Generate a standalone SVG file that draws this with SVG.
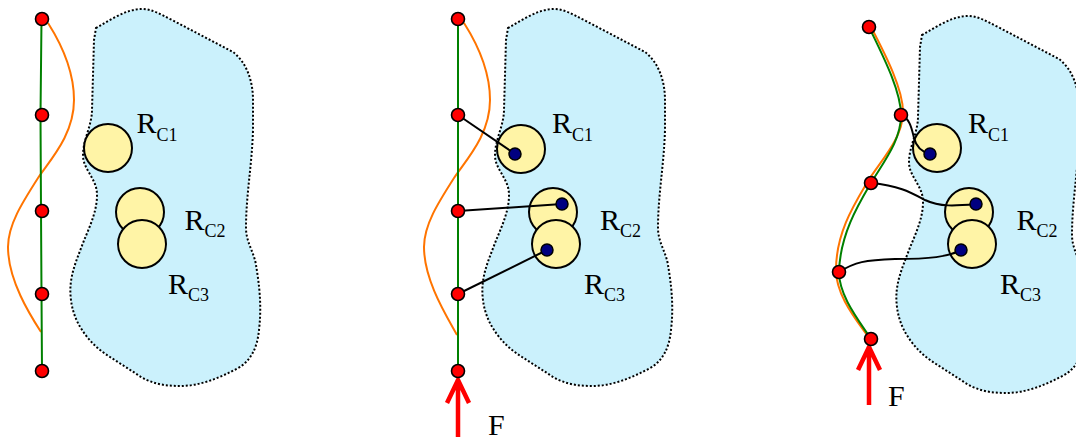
<svg xmlns="http://www.w3.org/2000/svg" xmlns:xlink="http://www.w3.org/1999/xlink" width="1076" height="440" viewBox="0 0 1076 440">
<style>
.blob{fill:#cbf1fc;stroke:#000;stroke-width:2;stroke-dasharray:2 2}
.rc{fill:#fff4a6;stroke:#000;stroke-width:2}
.node{fill:#ff0000;stroke:#000;stroke-width:1.6}
.dot{fill:#000080;stroke:#000;stroke-width:1.5}
.green{fill:none;stroke:#008000;stroke-width:2}
.orange{fill:none;stroke:#ff7400;stroke-width:2}
.link{fill:none;stroke:#000;stroke-width:2}
.arrow{fill:none;stroke:#ff0000;stroke-width:4.5;stroke-linejoin:miter}
.lbl{font-family:"Liberation Serif","Times New Roman",serif;font-size:30px;fill:#000}
.sub{font-size:18px}
</style>
<defs>
<path id="blobShape" d="M96,28 C110,20 126,9 142,9 C152,9 160,14 172,20 L233,52 C246,62 253,80 253,100 L253,130 C252,165 246,195 246,228 C246,242 254,252 256,265 C259,283 262,305 259,330 C257,350 250,360 240,367 C220,378 200,386 180,386 C165,386 150,384 135,373 L110,357 C92,346 74,326 71,300 C68,278 76,262 83,243 C89,228 97,212 97,195 C97,178 83,170 83,155 C83,140 92,125 92,110 L94,40 Z"/>
</defs>

<!-- Panel 1 -->
<g id="blob1"><use xlink:href="#blobShape" href="#blobShape" class="blob"/></g>
<g id="rc1-p1"><circle class="rc" cx="108" cy="148" r="24"/><text class="lbl" x="136.5" y="133">R<tspan class="sub" dy="7.5">C1</tspan></text></g>
<g id="rc2-p1"><circle class="rc" cx="140" cy="212" r="24"/><text class="lbl" x="184.5" y="230">R<tspan class="sub" dy="7">C2</tspan></text></g>
<g id="rc3-p1"><circle class="rc" cx="142" cy="244" r="24"/><text class="lbl" x="168" y="294">R<tspan class="sub" dy="6.5">C3</tspan></text></g>
<g id="connectors-p1">
<path class="orange" d="M48,23 C62,45 74,70 74,100 C74,135 50,160 38,178 C22,203 8,225 8,247 C8,280 30,315 41,332"/>
<path class="green" d="M41.5,19 L40.5,115 L41,211 L41.5,294 L42,371"/>
</g>
<g id="n1-p1"><circle class="node" cx="42" cy="19" r="6.5"/></g>
<g id="n2-p1"><circle class="node" cx="42" cy="115" r="6.5"/></g>
<g id="n3-p1"><circle class="node" cx="42" cy="211" r="6.5"/></g>
<g id="n4-p1"><circle class="node" cx="42" cy="294" r="6.5"/></g>
<g id="n5-p1"><circle class="node" cx="42" cy="371" r="6.5"/></g>

<!-- Panel 2 -->
<g id="blob2"><use xlink:href="#blobShape" href="#blobShape" class="blob" transform="translate(412,0)"/></g>
<g id="rc1-p2"><circle class="rc" cx="521" cy="149" r="24"/><text class="lbl" x="552" y="133">R<tspan class="sub" dy="7.5">C1</tspan></text></g>
<g id="rc2-p2"><circle class="rc" cx="553" cy="212" r="24"/><text class="lbl" x="600" y="230">R<tspan class="sub" dy="7">C2</tspan></text></g>
<g id="rc3-p2"><circle class="rc" cx="556" cy="244" r="24"/><text class="lbl" x="584" y="294">R<tspan class="sub" dy="6.5">C3</tspan></text></g>
<g id="connectors-p2">
<path class="orange" d="M464,23 C478,45 490,70 490,100 C490,135 466,160 454,178 C438,203 424,225 424,247 C424,280 446,315 457,335"/>
<path class="green" d="M458,19 L458,371"/>
<path class="link" d="M458,115 L515,154"/>
<path class="link" d="M458,211 L562,204"/>
<path class="link" d="M458,294 L547,250"/>
<path class="arrow" d="M458,437 L458,382 M447,403 L458,380 L469,403"/>
</g>
<g id="d1-p2"><circle class="dot" cx="515" cy="154" r="6"/></g>
<g id="d2-p2"><circle class="dot" cx="562" cy="204" r="6"/></g>
<g id="d3-p2"><circle class="dot" cx="547" cy="250" r="6"/></g>
<g id="n1-p2"><circle class="node" cx="458" cy="19" r="6.5"/></g>
<g id="n2-p2"><circle class="node" cx="458" cy="115" r="6.5"/></g>
<g id="n3-p2"><circle class="node" cx="458" cy="211" r="6.5"/></g>
<g id="n4-p2"><circle class="node" cx="458" cy="294" r="6.5"/></g>
<g id="n5-p2"><circle class="node" cx="458" cy="371" r="6.5"/></g>
<g id="f-p2"><text class="lbl" x="488" y="435">F</text></g>

<!-- Panel 3 -->
<g id="blob3"><use xlink:href="#blobShape" href="#blobShape" class="blob" transform="translate(826,7)"/></g>
<g id="rc1-p3"><circle class="rc" cx="937" cy="148" r="24"/><text class="lbl" x="968" y="133">R<tspan class="sub" dy="7.5">C1</tspan></text></g>
<g id="rc2-p3"><circle class="rc" cx="969" cy="212" r="24"/><text class="lbl" x="1016.5" y="230">R<tspan class="sub" dy="7">C2</tspan></text></g>
<g id="rc3-p3"><circle class="rc" cx="972" cy="244" r="24"/><text class="lbl" x="1000" y="294">R<tspan class="sub" dy="6.5">C3</tspan></text></g>
<g id="connectors-p3">
<path class="orange" d="M871,27 C884,52 904,90 903,114 C902,138 883,158 868,181 C855,203 836,232 836,270 C836,295 855,318 869,338"/>
<path class="green" d="M869,27 C881,52 901,90 901,115 C901,140 885,160 871,183 C858,205 840,235 839,272 C839,295 857,318 871,339"/>
<path class="link" d="M901,115 C910,118 912,130 914,138 C916,146 922,152 930,154"/>
<path class="link" d="M871,183 C900,186 910,192 925,200 C940,207 955,206 976,204"/>
<path class="link" d="M839,272 C855,262 865,260 895,259 C930,259 948,257 961,250"/>
<path class="arrow" d="M869,405 L869,349 M858,370 L869,347 L880,370"/>
</g>
<g id="d1-p3"><circle class="dot" cx="930" cy="154" r="6"/></g>
<g id="d2-p3"><circle class="dot" cx="976" cy="204" r="6"/></g>
<g id="d3-p3"><circle class="dot" cx="961" cy="250" r="6"/></g>
<g id="n1-p3"><circle class="node" cx="869" cy="27" r="6.5"/></g>
<g id="n2-p3"><circle class="node" cx="901" cy="115" r="6.5"/></g>
<g id="n3-p3"><circle class="node" cx="871" cy="183" r="6.5"/></g>
<g id="n4-p3"><circle class="node" cx="839" cy="272" r="6.5"/></g>
<g id="n5-p3"><circle class="node" cx="871" cy="339" r="6.5"/></g>
<g id="f-p3"><text class="lbl" x="888" y="406">F</text></g>
</svg>
